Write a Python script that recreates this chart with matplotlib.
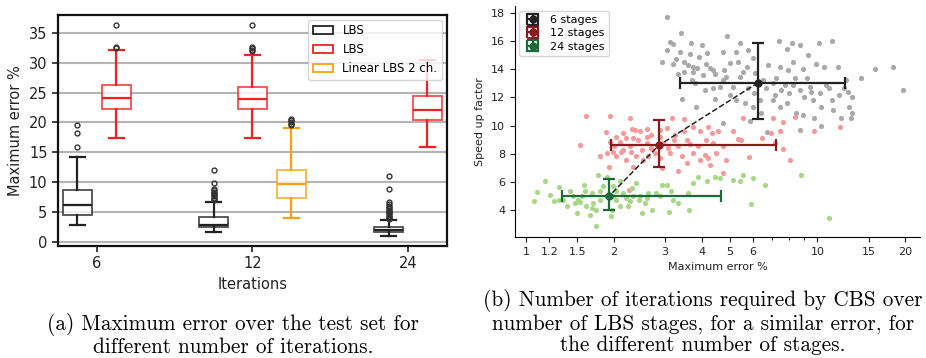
import matplotlib
matplotlib.use("Agg")
import matplotlib.pyplot as plt
from matplotlib.patches import Rectangle

# ---------------- (a) box plot data ----------------
iterations = [6, 12, 24]
# (position, q1, median, q3, whisker low, whisker high, fliers)
lbs_stats = [
    (0.875, 4.46, 6.24, 8.75, 2.84, 14.27, [15.9, 18.2, 19.6]),
    (1.75, 2.4, 2.85, 4.2, 1.56, 6.74,
     [7.0, 7.2, 7.4, 7.6, 7.8, 8.0, 8.2, 8.4, 8.6, 8.8, 9.8, 12.0]),
    (2.875, 1.56, 2.0, 2.4, 1.0, 3.68,
     [3.8, 4.0, 4.2, 4.4, 4.6, 4.8, 5.0, 5.2, 5.4, 5.6, 5.8, 6.0, 6.3, 6.6, 8.8, 11.0]),
]
lbs2_stats = [
    (1.125, 22.2, 24.1, 26.2, 17.4, 32.1, [32.4, 32.6, 36.3]),
    (2.0, 22.2, 23.9, 25.9, 17.4, 31.3, [32.0, 32.2, 32.4, 32.6, 36.3]),
    (3.125, 20.35, 22.1, 24.5, 15.9, 30.5, []),
]
linear_stats = [
    (2.25, 7.36, 9.75, 12.04, 4.0, 19.1, [19.5, 19.8, 20.1, 20.4, 20.6]),
]

# ---------------- (b) scatter data ----------------
gray_x = [3.04, 3.39, 4.89, 3.11, 3.19, 3.68, 4.02, 5.44, 7.37, 8.19, 8.74, 10.1, 11.2,
          3.05, 3.37, 3.64, 3.93, 4.18, 4.76, 5.24, 5.77, 7.86, 9.3, 2.93, 3.19, 3.28,
          3.48, 3.59, 3.75, 3.87, 4.14, 4.27, 4.46, 4.79, 5.03, 5.33, 5.71, 6.0, 6.77,
          7.43, 7.92, 8.22, 8.92, 9.88, 10.5, 11.8, 15.8, 18.2, 14.1, 19.7, 3.31, 3.72,
          3.79, 4.11, 4.38, 4.74, 5.14, 5.42, 5.77, 6.06, 6.68, 7.04, 7.53, 8.24, 8.73,
          9.42, 10.2, 11.0, 11.9, 12.7, 13.2, 3.42, 3.84, 4.44, 5.0, 5.63, 6.0, 6.39,
          7.04, 7.86, 8.46, 9.66, 10.3, 11.3, 9.77, 10.3, 12.1, 12.8, 13.1, 13.2, 8.73,
          6.72, 4.74, 5.85, 8.92, 3.75, 4.38, 4.87, 5.55, 6.13, 6.5, 7.22, 7.73, 8.35,
          9.2, 9.54, 10.7, 9.02, 7.97, 7.13, 6.33, 5.27, 4.62, 4.06, 3.48, 11.2, 12.3,
          7.43, 12.5]
gray_y = [17.7, 16.54, 16.37, 15.95, 15.76, 15.86, 15.71, 15.88, 16.0, 15.88, 15.71, 15.88,
          16.0, 15.36, 15.2, 15.08, 14.9, 15.17, 15.2, 15.2, 15.36, 15.41, 15.0, 14.54,
          14.35, 14.7, 14.54, 14.3, 14.18, 14.06, 14.4, 14.06, 13.66, 13.94, 14.46, 14.54,
          14.18, 14.77, 14.3, 14.18, 13.94, 14.54, 14.0, 14.37, 14.18, 14.18, 14.0, 14.18,
          13.36, 12.53, 13.66, 13.24, 13.05, 12.53, 12.65, 13.24, 12.77, 13.48, 12.65,
          12.3, 12.65, 13.0, 12.53, 12.89, 12.53, 12.77, 12.34, 12.65, 12.18, 12.41, 12.06,
          11.87, 11.31, 11.87, 12.18, 11.59, 11.35, 10.88, 11.82, 11.59, 10.88, 11.82,
          11.35, 11.12, 10.53, 9.99, 10.53, 11.35, 10.53, 10.88, 9.7, 9.52, 10.18, 10.36,
          10.76, 13.83, 13.94, 13.48, 13.83, 13.71, 13.24, 13.36, 12.89, 13.36, 13.36,
          12.41, 12.89, 12.06, 12.3, 12.18, 11.82, 11.82, 12.77, 13.6, 13.83, 11.82, 12.65,
          11.35, 13.24]

red_x = [1.61, 1.94, 2.28, 3.18, 3.48, 5.56, 7.04, 7.61, 8.36, 12.0, 9.74, 1.53, 1.88, 1.94,
         2.04, 2.15, 2.31, 2.45, 2.59, 2.69, 2.88, 3.05, 3.24, 3.47, 3.74, 3.94, 4.21, 4.36,
         4.56, 5.14, 6.47, 6.95, 7.43, 7.16, 7.61, 8.06, 5.82, 5.35, 4.74, 4.38, 3.89, 3.64,
         3.32, 3.08, 2.59, 2.42, 2.27, 2.15, 2.01, 1.9, 1.79, 2.04, 2.2, 2.39, 2.62, 2.88,
         3.11, 3.42, 3.74, 3.94, 4.21, 4.5, 4.84, 4.27, 2.92, 3.32, 1.93, 2.33, 4.74, 2.25,
         2.12, 2.29, 2.49, 2.69, 2.96, 3.21, 3.56, 4.16, 2.59, 2.33, 2.1, 2.78, 2.51, 3.56,
         4.11, 5.45, 2.2, 1.99, 2.88, 2.37]
red_y = [10.69, 10.69, 10.53, 10.53, 10.5, 10.53, 10.53, 10.29, 10.65, 9.89, 9.59, 8.6, 9.52,
         8.88, 9.23, 9.47, 9.75, 9.59, 9.75, 9.35, 9.23, 9.82, 9.35, 9.59, 9.94, 9.59, 9.94,
         9.47, 9.59, 9.59, 9.11, 9.47, 9.59, 8.76, 8.36, 7.58, 7.77, 9.04, 8.57, 8.76, 8.53,
         8.71, 8.53, 8.41, 8.76, 9.0, 8.53, 8.29, 8.53, 8.05, 7.82, 7.82, 7.58, 7.82, 7.82,
         7.7, 8.05, 7.82, 8.05, 7.58, 7.7, 8.05, 7.58, 7.23, 6.99, 6.82, 7.11, 7.11, 6.64,
         5.46, 8.17, 8.17, 8.29, 8.41, 8.76, 9.0, 9.0, 9.0, 9.23, 9.11, 8.88, 8.05, 7.58,
         7.35, 7.94, 8.99, 9.11, 8.17, 9.7, 9.7]

green_x = [1.06, 1.09, 1.16, 1.21, 1.25, 1.30, 1.34, 1.38, 1.45, 1.49, 1.53, 1.58, 1.61, 1.65,
           1.68, 1.73, 1.77, 1.79, 1.84, 1.89, 1.95, 1.99, 2.04, 2.1, 2.15, 2.24, 2.3, 2.39,
           2.44, 2.49, 2.55, 2.62, 2.71, 2.8, 2.92, 3.04, 3.1, 3.15, 3.31, 3.62, 3.6, 3.74,
           3.9, 4.18, 4.44, 4.64, 5.14, 5.56, 5.42, 5.91, 6.0, 6.59, 8.76, 11.0, 1.89, 1.7,
           1.55, 1.47, 1.41, 1.59, 1.79, 2.04, 2.21, 2.33, 2.45, 2.59, 2.88, 2.1, 1.74, 1.97,
           1.68, 1.51, 1.3, 3.2, 1.99, 2.27]
green_y = [4.68, 5.3, 6.05, 5.11, 4.68, 5.63, 4.76, 4.28, 5.0, 3.81, 4.63, 5.82, 4.28, 3.69,
           5.23, 2.87, 6.52, 4.76, 5.7, 6.4, 3.58, 5.7, 4.76, 6.05, 5.23, 4.28, 5.58, 5.93,
           4.76, 3.81, 4.52, 5.23, 4.0, 5.23, 5.82, 5.82, 3.88, 5.35, 4.52, 4.0, 5.23, 5.93,
           6.4, 6.05, 6.4, 6.33, 6.17, 6.52, 6.05, 4.47, 6.28, 5.82, 6.52, 3.5, 5.0, 4.52,
           5.0, 4.52, 5.35, 5.35, 5.35, 5.35, 4.88, 5.0, 5.0, 4.88, 5.0, 4.28, 4.05, 4.05,
           4.17, 4.76, 4.76, 4.76, 5.0, 4.65]

# summary points: mean error, mean speed-up, x range, y range
stage_labels = ["6 stages", "12 stages", "24 stages"]
mean_err = [6.26, 2.85, 1.92]
mean_speed = [13.05, 8.6, 4.99]
err_low = [3.37, 1.95, 1.33]
err_high = [12.4, 7.23, 4.66]
speed_low = [10.5, 7.11, 4.0]
speed_high = [15.86, 10.41, 6.24]

dark_cols = ["#222222", "#8b1a1a", "#1b6b38"]
light_cols = ["#a9a9ab", "#f59a9a", "#a8d78a"]

fig = plt.figure(figsize=(9.26, 3.58), dpi=100)

# ---------------- (a) ----------------
ax1 = fig.add_axes([0.0626, 0.313, 0.42, 0.645])

def make_stats(rows):
    out = []
    for pos, q1, med, q3, lo, hi, fl in rows:
        out.append(dict(q1=q1, med=med, q3=q3, whislo=lo, whishi=hi, fliers=fl))
    return out

for rows, col in [(lbs_stats, "#222222"), (lbs2_stats, "#ee2222"), (linear_stats, "#ffa010")]:
    ax1.bxp(make_stats(rows), positions=[r[0] for r in rows], widths=0.19,
            patch_artist=True, manage_ticks=False,
            boxprops=dict(facecolor="white", edgecolor=col, linewidth=1.3, alpha=0.8),
            medianprops=dict(color=col, linewidth=1.6),
            whiskerprops=dict(color=col, linewidth=1.6),
            capprops=dict(color=col, linewidth=1.6),
            flierprops=dict(marker="o", markersize=3.5, markerfacecolor="none",
                            markeredgecolor="#333333", markeredgewidth=1.0))

ax1.set_xlim(0.75, 3.25)
ax1.set_ylim(-0.7, 38)
ax1.set_xticks([1, 2, 3])
ax1.set_xticklabels([str(i) for i in iterations])
ax1.set_yticks(range(0, 36, 5))
ax1.yaxis.grid(True, color="#b4b4b4", linewidth=1.5)
ax1.set_axisbelow(True)
for s in ax1.spines.values():
    s.set_linewidth(1.6)
    s.set_color("#111111")
ax1.tick_params(labelsize=10.5, width=1.2, length=4, colors="#222222")
ax1.set_xlabel("Iterations", fontsize=10.5, color="#222222")
ax1.set_ylabel("Maximum error %", fontsize=10.5, color="#222222")
handles = [Rectangle((0, 0), 1, 1, facecolor="white", edgecolor=c, linewidth=1.3)
           for c in ["#222222", "#ee2222", "#ffa010"]]
ax1.legend(handles, ["LBS", "LBS", "Linear LBS 2 ch."], loc="upper right",
           fontsize=8.5, handlelength=1.7, borderaxespad=0.4, labelspacing=0.5)

# ---------------- (b) ----------------
ax2 = fig.add_axes([0.556, 0.338, 0.438, 0.645])
for xs, ys, c in zip([gray_x, red_x, green_x], [gray_y, red_y, green_y], light_cols):
    ax2.scatter(xs, ys, s=14, color=c, linewidths=0, zorder=1)
ax2.plot(mean_err, mean_speed, "--", color="#222222", linewidth=1.1, zorder=2)
for i in range(3):
    xerr = [[mean_err[i] - err_low[i]], [err_high[i] - mean_err[i]]]
    yerr = [[mean_speed[i] - speed_low[i]], [speed_high[i] - mean_speed[i]]]
    ax2.errorbar([mean_err[i]], [mean_speed[i]], xerr=xerr, yerr=yerr, fmt="o",
                 color=dark_cols[i], markersize=5, elinewidth=1.6, capsize=4,
                 capthick=1.6, label=stage_labels[i], zorder=3)
ax2.set_xscale("log")
ax2.set_xlim(0.914, 22.6)
ax2.set_ylim(2.12, 18.47)
xt = [1, 1.2, 1.5, 2, 3, 4, 5, 6, 10, 15, 20]
ax2.set_xticks(xt)
ax2.set_xticklabels([str(v) for v in xt])
ax2.set_xticks([7, 8, 9], minor=True)
ax2.xaxis.set_minor_formatter(matplotlib.ticker.NullFormatter())
ax2.set_yticks(range(4, 19, 2))
ax2.spines["top"].set_visible(False)
ax2.spines["right"].set_visible(False)
ax2.tick_params(labelsize=8, colors="#222222")
ax2.set_xlabel("Maximum error %", fontsize=8, color="#222222")
ax2.set_ylabel("Speed up factor", fontsize=8, color="#222222")
ax2.legend(loc="upper left", fontsize=8, borderaxespad=0.4, handletextpad=0.8,
           handlelength=1.6, labelspacing=0.3)

# ---------------- captions ----------------
cap = dict(family="cmr10", fontsize=15.3, ha="center", va="center", linespacing=1.1)
fig.text(0.2516, 0.064, "(a) Maximum error over the test set for\ndifferent number of iterations.", **cap)
fig.text(0.759, 0.10, "(b) Number of iterations required by CBS over\nnumber of LBS stages, for a similar error, for\nthe different number of stages.", **cap)

fig.savefig("out.png", dpi=100)
